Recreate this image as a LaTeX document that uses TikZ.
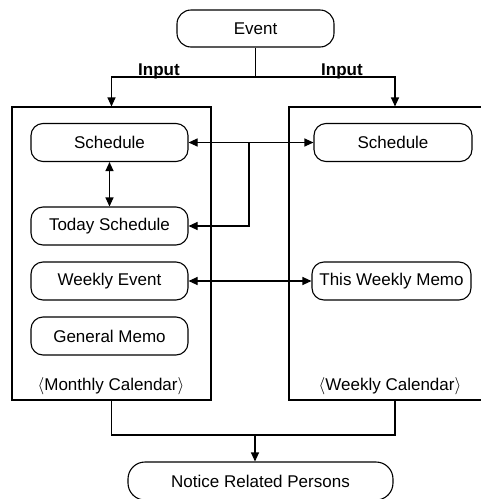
\documentclass[tikz,border=0pt]{standalone}
\usepackage{fontspec}
\setmainfont{Liberation Sans}
\usetikzlibrary{arrows.meta,positioning,calc}

\begin{document}
\begin{tikzpicture}
    [x=1pt,y=-1pt,line width=1.1pt,>={Triangle[length=9pt,width=8pt]},
     every node/.style={font=\fontsize{17}{20}\selectfont,inner sep=0pt},
     item/.style={draw,rounded corners=12pt,minimum width=157pt,minimum height=38pt},
     panel/.style={draw}]
    \useasboundingbox (0,0) rectangle (481,499);
    \clip (0,0) rectangle (481,499);
    % calendars
    \node[panel,minimum width=199pt,minimum height=293pt] (mcal) at (111.5,253.5) {};
    \node[panel,minimum width=212pt,minimum height=293pt] (wcal) at (395,253.5) {};
    \node (mlab) at (111,386) {$\langle$Monthly Calendar$\rangle$};
    \node (wlab) at (390,386) {$\langle$Weekly Calendar$\rangle$};
    % boxes
    \node[item,minimum height=37pt,rounded corners=14pt] (ev) at (255.5,28.5) {Event};
    \node[item] (msched) at (109.5,142.5) {Schedule};
    \node[item] (mtoday) at (109.5,226)   {Today Schedule};
    \node[item] (mweek)  at (109.5,281)   {Weekly Event};
    \node[item] (mmemo)  at (109.5,336)   {General Memo};
    \node[item,minimum width=158pt] (wsched) at (393,142.5) {Schedule};
    \node[item,minimum width=159pt] (wmemo)  at (391.5,281) {This Weekly Memo};
    \node[item,minimum width=265pt,rounded corners=17pt] (notice) at (260.5,481) {Notice Related Persons};
    \node[font=\fontsize{17}{20}\selectfont\bfseries] (inl) at (159,71) {Input};
    \node[font=\fontsize{17}{20}\selectfont\bfseries] (inr) at (342,71) {Input};
    % junctions
    \coordinate (fork) at (ev.south |- 0,77);
    \coordinate (tap) at (249,142.5);
    \coordinate (merge) at (255,435);
    \draw (ev.south) -- (fork);
    \foreach \to in {mcal,wcal}
      \draw [->] (fork) -| (\to.north);
    \foreach \from in {mcal,wcal}
      \draw (\from.south) |- (merge);
    \draw [->] (merge) -- (merge |- notice.north);
    \foreach \from/\to in {msched/wsched,mweek/wmemo}
      \draw [<->] (\from.east) -- (\to.west);
    \draw [<->] (msched.south) -- (mtoday.north);
    \draw [->] (tap) |- (mtoday.east);
\end{tikzpicture}
\end{document}
